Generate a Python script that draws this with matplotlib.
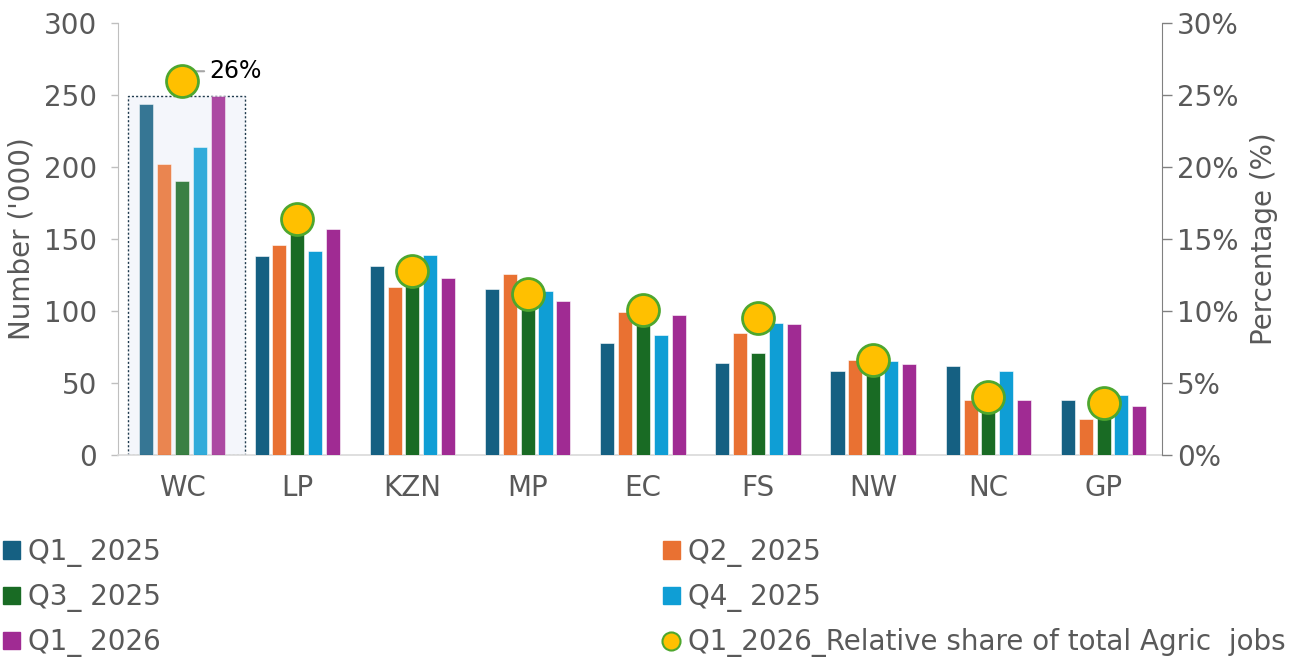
import matplotlib
matplotlib.use("Agg")
import matplotlib.pyplot as plt
import numpy as np
from matplotlib.patches import Rectangle, Patch
from matplotlib.lines import Line2D
from matplotlib.ticker import PercentFormatter

provinces = ["WC", "LP", "KZN", "MP", "EC", "FS", "NW", "NC", "GP"]
series_names = ["Q1_ 2025", "Q2_ 2025", "Q3_ 2025", "Q4_ 2025", "Q1_ 2026"]
q1_2025 = [244, 138, 131, 115, 78, 64, 58, 62, 38]
q2_2025 = [202, 146, 117, 126, 99, 85, 66, 38, 25]
q3_2025 = [190, 155, 122, 108, 95, 71, 60, 35, 28]
q4_2025 = [214, 142, 139, 114, 83, 92, 65, 58, 42]
q1_2026 = [249, 157, 123, 107, 97, 91, 63, 38, 34]
share_q1_2026 = [0.26, 0.164, 0.128, 0.112, 0.101, 0.095, 0.066, 0.040, 0.036]
share_name = "Q1_2026_Relative share of total Agric  jobs"

colors = ["#156082", "#E97132", "#196B24", "#0F9ED5", "#A02B93"]
grey = "#595959"
FS = 20

plt.rcParams['font.family'] = ['DejaVu Sans']

W, H = 1300, 661
fig = plt.figure(figsize=(W / 100, H / 100), dpi=100)
ax = fig.add_axes([118 / W, 1 - 455 / H, (1162 - 118) / W, (455 - 23) / H])

x = np.arange(len(provinces))
step = 0.155
width = 0.122
all_series = [q1_2025, q2_2025, q3_2025, q4_2025, q1_2026]
for i, (vals, c) in enumerate(zip(all_series, colors)):
    off = (i - 2) * step
    bars = ax.bar(x + off, vals, width, color=c, edgecolor="white", linewidth=0.4, zorder=3)
    bars[0].set_alpha(0.85)

# highlight box around WC
wc_top = max(s[0] for s in all_series)
ax.add_patch(Rectangle((-0.47, 0), 1.017, wc_top, facecolor="#F4F6FB",
                       edgecolor="#1F3A4D", linestyle=(0, (1.5, 1.5)), linewidth=1.0, zorder=1))

ax.set_xlim(-0.556, 8.507)
ax.set_ylim(0, 300)
ax.set_yticks(np.arange(0, 301, 50))
ax.set_xticks(x)
ax.set_xticklabels(provinces)
ax.tick_params(axis="x", length=0, pad=14, labelsize=FS, labelcolor=grey)
ax.tick_params(axis="y", length=5, width=1, color="#BFBFBF", labelsize=FS, labelcolor=grey, pad=10)
for s in ["top", "right"]:
    ax.spines[s].set_visible(False)
ax.spines["left"].set_color("#BFBFBF")
ax.spines["bottom"].set_color("#D9D9D9")
ax.spines["bottom"].set_linewidth(1.2)
ax.set_ylabel("Number ('000)", fontsize=FS, color=grey, labelpad=6)

ax2 = ax.twinx()
ax2.set_ylim(0, 0.30)
ax2.set_yticks(np.arange(0, 0.301, 0.05))
ax2.yaxis.set_major_formatter(PercentFormatter(1.0, decimals=0))
ax2.plot(x, share_q1_2026, linestyle="none", marker="o", markersize=23,
         markerfacecolor="#FFC000", markeredgecolor="#4EA72E", markeredgewidth=2, zorder=5)
for s in ["top", "left", "bottom"]:
    ax2.spines[s].set_visible(False)
ax2.spines["right"].set_color("#808080")
ax2.tick_params(axis="y", length=7, width=1, color="#808080", labelsize=FS, labelcolor=grey, pad=4)
ax2.set_ylabel("Percentage (%)", fontsize=FS, color=grey, labelpad=8)

# label for WC share
ax2.annotate(f"{share_q1_2026[0]*100:.0f}%", xy=(x[0], share_q1_2026[0]),
             xytext=(0.24, share_q1_2026[0] + 0.0065), fontsize=17, color="black",
             va="center", ha="left",
             arrowprops=dict(arrowstyle="-", color="#A6A6A6", lw=1.5,
                             connectionstyle="angle,angleA=0,angleB=60,rad=0", shrinkA=2, shrinkB=0))

# legends
sq = dict(handlelength=0.6, handleheight=0.6, handletextpad=0.3, frameon=False,
          fontsize=FS, labelspacing=0.58, borderaxespad=0, borderpad=0, labelcolor=grey)
left_h = [Patch(color=colors[0]), Patch(color=colors[2]), Patch(color=colors[4])]
left_l = [series_names[0], series_names[2], series_names[4]]
leg1 = fig.legend(left_h, left_l, loc="upper left", bbox_to_anchor=(3 / W, 1 - 538 / H), **sq)
right_h = [Patch(color=colors[1]), Patch(color=colors[3]),
           Line2D([], [], linestyle="none", marker="o", markersize=13,
                  markerfacecolor="#FFC000", markeredgecolor="#4EA72E", markeredgewidth=1.5)]
right_l = [series_names[1], series_names[3], share_name]
leg2 = fig.legend(right_h, right_l, loc="upper left", bbox_to_anchor=(663 / W, 1 - 538 / H), **sq)

fig.savefig("out.png", dpi=100)
